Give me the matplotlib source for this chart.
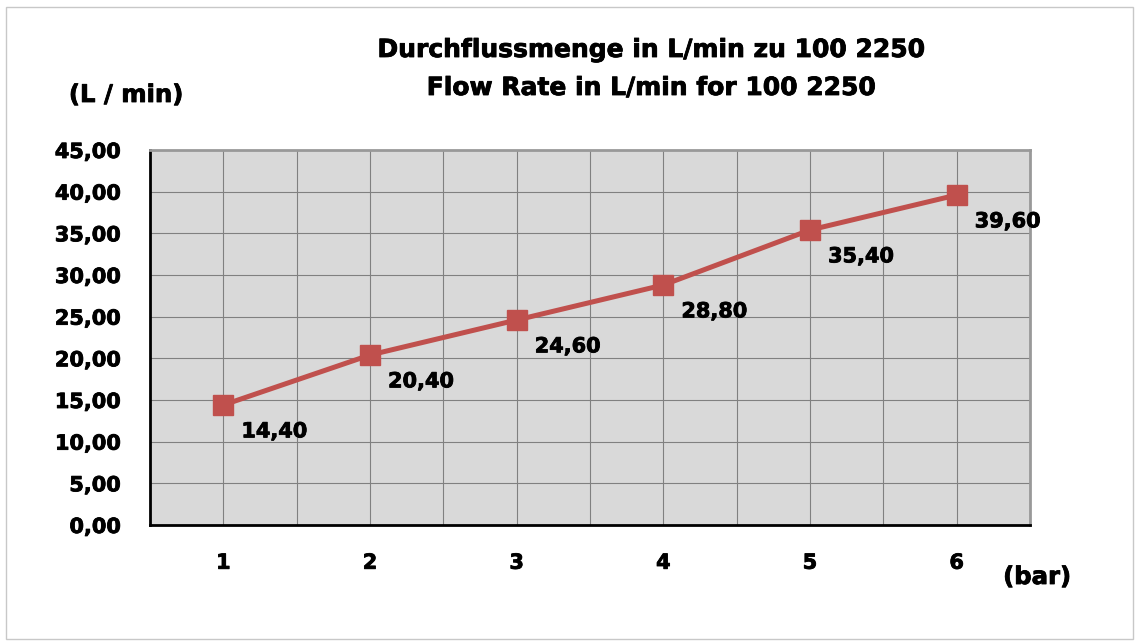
import matplotlib.pyplot as plt
import matplotlib.patheffects as pe
from matplotlib.patches import Rectangle
from matplotlib.ticker import MultipleLocator, FuncFormatter

pressure = [1, 2, 3, 4, 5, 6]
flow = [14.40, 20.40, 24.60, 28.80, 35.40, 39.60]
title_de = "Durchflussmenge in L/min zu 100 2250"
title_en = "Flow Rate in L/min for 100 2250"

plt.rcParams["font.family"] = ["DejaVu Sans"]
plt.rcParams["font.weight"] = "bold"

heavy = [pe.withStroke(linewidth=0.6, foreground="black")]

fig = plt.figure(figsize=(11.37, 6.41), dpi=100)
ax = fig.add_axes([150 / 1137, 1 - 525 / 641, 880 / 1137, 375 / 641])

# outer frame
fig.patches.append(Rectangle((6 / 1137, 2 / 641), 1127 / 1137, 632 / 641,
                             transform=fig.transFigure, fill=False,
                             edgecolor="#c8c8c8", linewidth=1))

ax.set_facecolor("#d9d9d9")
ax.plot(pressure, flow, color="#c0504d", linewidth=3.6, marker="s",
        markersize=14, zorder=3)

for x, y in zip(pressure, flow):
    ax.annotate(f"{y:.2f}".replace(".", ","), (x, y), xytext=(13, -19),
                textcoords="offset points", ha="left", va="center",
                fontsize=15, fontweight="bold", path_effects=heavy)

ax.set_xlim(0.5, 6.5)
ax.set_ylim(0, 45)
ax.xaxis.set_major_locator(MultipleLocator(1))
ax.xaxis.set_minor_locator(MultipleLocator(0.5))
ax.yaxis.set_major_locator(MultipleLocator(5))
ax.yaxis.set_major_formatter(FuncFormatter(lambda v, p: f"{v:.2f}".replace(".", ",")))
ax.grid(True, which="both", color="#808080", linewidth=0.8)
ax.set_axisbelow(True)

ax.tick_params(axis="both", which="both", length=0, labelsize=15)
ax.tick_params(axis="x", pad=20)
ax.tick_params(axis="y", pad=21)
for lbl in ax.get_xticklabels() + ax.get_yticklabels():
    lbl.set_fontweight("bold")
    lbl.set_path_effects(heavy)

ax.spines["left"].set_color("black")
ax.spines["bottom"].set_color("black")
ax.spines["left"].set_linewidth(2)
ax.spines["bottom"].set_linewidth(2)
ax.spines["top"].set_color("#999999")
ax.spines["right"].set_color("#999999")
ax.spines["top"].set_linewidth(2)
ax.spines["right"].set_linewidth(2)

fig.text(652 / 1137, 1 - 50 / 641, title_de, ha="center", va="center",
         fontsize=18, fontweight="bold", path_effects=heavy)
fig.text(652 / 1137, 1 - 88 / 641, title_en, ha="center", va="center",
         fontsize=18, fontweight="bold", path_effects=heavy)
fig.text(126 / 1137, 1 - 95 / 641, "(L / min)", ha="center", va="center",
         fontsize=17.5, fontweight="bold", path_effects=heavy)
fig.text(1037 / 1137, 1 - 577 / 641, "(bar)", ha="center", va="center",
         fontsize=17.5, fontweight="bold", path_effects=heavy)

plt.savefig("out.png", dpi=100)
